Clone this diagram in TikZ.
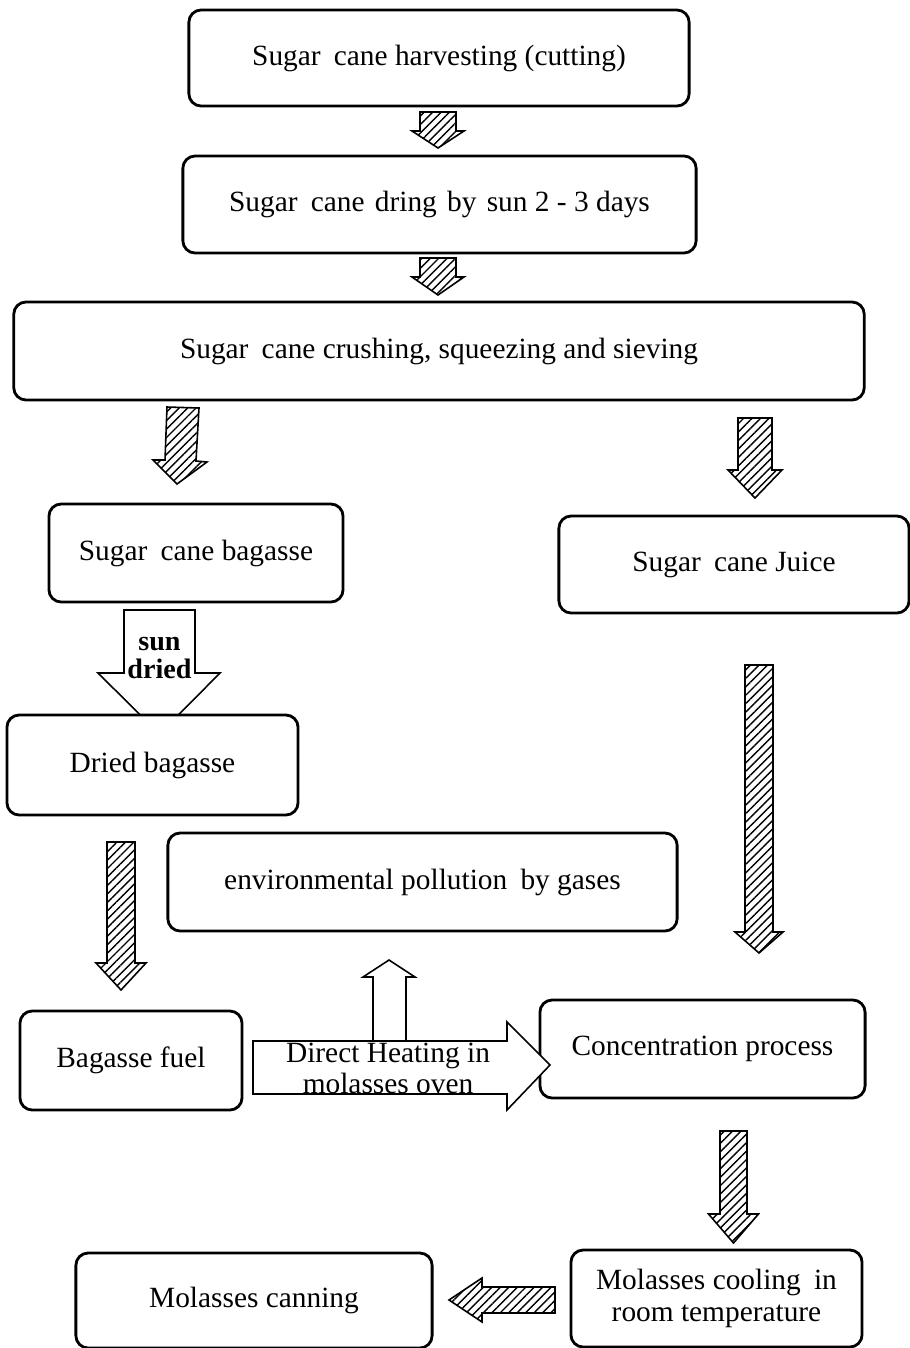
\documentclass[tikz,border=0pt]{standalone}
\usepackage{fontspec}
\setmainfont{Liberation Serif}
\usetikzlibrary{patterns.meta}
\newcommand{\hatchdown}[6]{% x, ytop, yhead, ytip, shaft half, head half
  \draw[harr] (#1-#5,#2) -- (#1+#5,#2) -- (#1+#5,#3) -- (#1+#6,#3) -- (#1,#4) -- (#1-#6,#3) -- (#1-#5,#3) -- cycle;}
\begin{document}
\begin{tikzpicture}[x=0.01cm,y=-0.01cm,
  box/.style={draw, line width=0.8pt, rounded corners=3.5pt, fill=white, inner sep=0pt,
    font=\fontsize{8.35}{9.2}\selectfont, align=center},
  harr/.style={draw, line width=0.45pt, pattern={Lines[angle=45,distance=1.7pt,line width=0.4pt]}},
  oarr/.style={draw, line width=0.45pt, fill=white},
  lbl/.style={font=\fontsize{8.35}{8.8}\selectfont, align=center, inner sep=0pt}]
\useasboundingbox (0,0) rectangle (910,1348);
% open arrow "sun dried" (tip hidden under box)
\coordinate (sdtop) at (159.5,610);
\draw[oarr] (124,610) -- (195,610) -- (195,673) -- (220,673) -- (159.5,734) -- (98,673) -- (124,673) -- cycle;
\node[lbl, font=\fontsize{8}{8}\bfseries\selectfont] (sd) at (159.5,658) {sun\\dried};
% boxes
\node[box, minimum width=5.00cm, minimum height=0.96cm] (b1) at (439,58) {Sugar\hspace{0.2em} cane harvesting (cutting)};
\node[box, minimum width=5.13cm, minimum height=0.97cm] (b2) at (439.5,204.5) {Sugar\hspace{0.2em} cane\hspace{0.1em} dring\hspace{0.1em} by\hspace{0.1em} sun 2 - 3 days};
\node[box, minimum width=8.50cm, minimum height=0.98cm] (b3) at (439,351) {Sugar\hspace{0.2em} cane crushing, squeezing and sieving};
\node[box, minimum width=2.94cm, minimum height=0.98cm] (b4) at (196,553) {Sugar\hspace{0.2em} cane bagasse};
\node[box, minimum width=3.50cm, minimum height=0.97cm] (b5) at (734,564.5) {Sugar\hspace{0.2em} cane Juice};
\node[box, minimum width=2.91cm, minimum height=1.00cm] (b6) at (152.5,765) {Dried bagasse};
\node[box, minimum width=5.09cm, minimum height=0.98cm] (b7) at (422.5,882) {environmental pollution\hspace{0.2em} by gases};
\node[box, minimum width=2.22cm, minimum height=0.99cm] (b8) at (131,1060.5) {Bagasse fuel};
\node[box, minimum width=3.25cm, minimum height=0.98cm] (b9) at (702.5,1049) {Concentration process};
\node[box, minimum width=2.91cm, minimum height=0.97cm] (b10) at (716.5,1298.5) {Molasses cooling\hspace{0.2em} in\\room temperature};
\node[box, minimum width=3.56cm, minimum height=0.95cm] (b11) at (254,1300.5) {Molasses canning};
% hatched arrows
\hatchdown{438}{112}{131}{148}{18}{26}
\hatchdown{438}{258}{277}{295}{18}{26}
\draw[harr] (167,407) -- (199,408) -- (196,461) -- (207,462) -- (177,484) -- (153,460) -- (165,460) -- cycle;
\hatchdown{755}{418}{470}{498}{17}{27}
\hatchdown{121}{842}{963}{990}{14}{25}
\hatchdown{759}{665}{932}{953}{14}{24}
\hatchdown{733.5}{1131}{1214}{1243}{13.5}{25}
\draw[harr] (555,1287) -- (555,1313) -- (482,1313) -- (482,1322) -- (449,1300) -- (482,1278) -- (482,1287) -- cycle;
% open arrows
\draw[oarr] (373,1041) -- (373,977) -- (363,977) -- (389,960) -- (415,977) -- (406,977) -- (406,1041) -- cycle;
\draw[oarr] (253,1041) -- (507,1041) -- (507,1022) -- (550,1065) -- (507,1110) -- (507,1094) -- (253,1094) -- cycle;
\node[lbl] (dh) at (388,1068) {Direct Heating in\\molasses oven};
\end{tikzpicture}
\end{document}
